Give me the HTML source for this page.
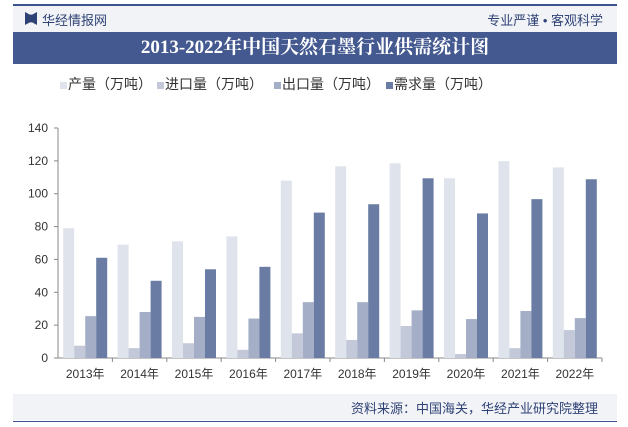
<!DOCTYPE html>
<html><head><meta charset="utf-8"><style>
body{margin:0;width:628px;height:427px;background:#fff;font-family:"Liberation Sans","Noto Sans CJK SC",sans-serif;position:relative;overflow:hidden}
.abs{position:absolute}
.lg{position:absolute;top:74px;font-size:14px;color:#333;white-space:nowrap}
.lg i{display:inline-block;width:7px;height:7px;margin-right:1px}
</style></head><body>
<div class="abs" style="left:13px;top:4px;width:604px;height:2px;background:#3d5290"></div>
<div class="abs" style="left:13px;top:6px;width:604px;height:26px;background:#f2f3f7"></div>
<div class="abs" style="left:25px;top:12px;width:12px;height:13px;background:#2f4275;clip-path:polygon(0 0,40% 20%,60% 20%,100% 0,100% 100%,60% 80%,40% 80%,0 100%)"></div>
<div class="abs" style="left:42px;top:10px;font-size:13px;color:#2f4275">华经情报网</div>
<div class="abs" style="right:25px;top:10px;font-size:13px;color:#2f4275">专业严谨 • 客观科学</div>
<div class="abs" style="left:13px;top:32px;width:604px;height:32px;background:#44598f;color:#fff;font-family:'Liberation Serif','Noto Serif CJK SC',serif;font-weight:bold;font-size:19px;line-height:32px;text-align:center">2013-2022年中国天然石墨行业供需统计图</div>
<div class="lg" style="left:60px"><i style="background:#dfe3ec"></i>产量（万吨）</div>
<div class="lg" style="left:157px"><i style="background:#c3c9d9"></i>进口量（万吨）</div>
<div class="lg" style="left:274px"><i style="background:#a4afc7"></i>出口量（万吨）</div>
<div class="lg" style="left:386px"><i style="background:#6a7ca3"></i>需求量（万吨）</div>
<svg class="abs" style="left:0;top:0" width="628" height="427" id="chart"></svg>
<div class="abs" style="left:13px;top:394px;width:604px;height:26px;background:#f2f3f7"></div>
<div class="abs" style="right:30px;top:398px;font-size:13px;color:#2f4275">资料来源：中国海关，华经产业研究院整理</div>
<div class="abs" style="left:13px;top:421px;width:604px;height:1px;background:#3d5290"></div>
<script>
const categories=["2013年","2014年","2015年","2016年","2017年","2018年","2019年","2020年","2021年","2022年"];
const production=[79,69,71,74,108,116.7,118.5,109.4,119.8,116];
const imports=[7.5,6,9,5,15,11,19.5,2.4,6,17];
const exports_=[25.5,28,25,24,34,34,29,23.7,28.6,24.3];
const demand=[61,47,54,55.5,88.5,93.6,109.4,88,96.7,108.8];
const yTicks=[0,20,40,60,80,100,120,140];
const colors=["#dfe3ec","#c3c9d9","#a4afc7","#6a7ca3"];
const names=["production","import","export","demand"];
const svg=document.getElementById('chart');
const NS="http://www.w3.org/2000/svg";
const x0=58,x1=602,y0=358,yTop=128,yMax=140;
const yS=v=>y0-(v/yMax)*(y0-yTop);
const cw=(x1-x0)/categories.length;
function mk(t,a){const e=document.createElementNS(NS,t);for(const k in a)e.setAttribute(k,a[k]);svg.appendChild(e);return e;}
const ax=mk('line',{x1:x0,y1:yTop,x2:x0,y2:y0,stroke:'#888'});


const bx=mk('line',{x1:x0,y1:y0,x2:x1,y2:y0,stroke:'#888'});


yTicks.forEach(t=>{
 const tk=mk('line',{x1:x0-4,x2:x0,y1:yS(t),y2:yS(t),stroke:'#888'});
 
 
 const l=mk('text',{x:x0-10,y:yS(t)+4,'text-anchor':'end','font-size':12,fill:'#333'});
 l.textContent=t;
 
 
});
const series=[production,imports,exports_,demand];
const bw=11;
categories.forEach((c,i)=>{
 const cx=x0+cw*i+cw/2;
 const tk=mk('line',{x1:x0+cw*(i+1),x2:x0+cw*(i+1),y1:y0,y2:y0+4,stroke:'#888'});
 
 
 series.forEach((s,j)=>{
  const bx=cx-2*bw+j*bw;
  const r=mk('rect',{x:bx,y:yS(s[i]),width:bw,height:y0-yS(s[i]),fill:colors[j]});
  
  
 });
 const l=mk('text',{x:cx,y:y0+20,'text-anchor':'middle','font-size':12,fill:'#333'});
 l.textContent=c;
 
 
});
</script>
</body></html>
